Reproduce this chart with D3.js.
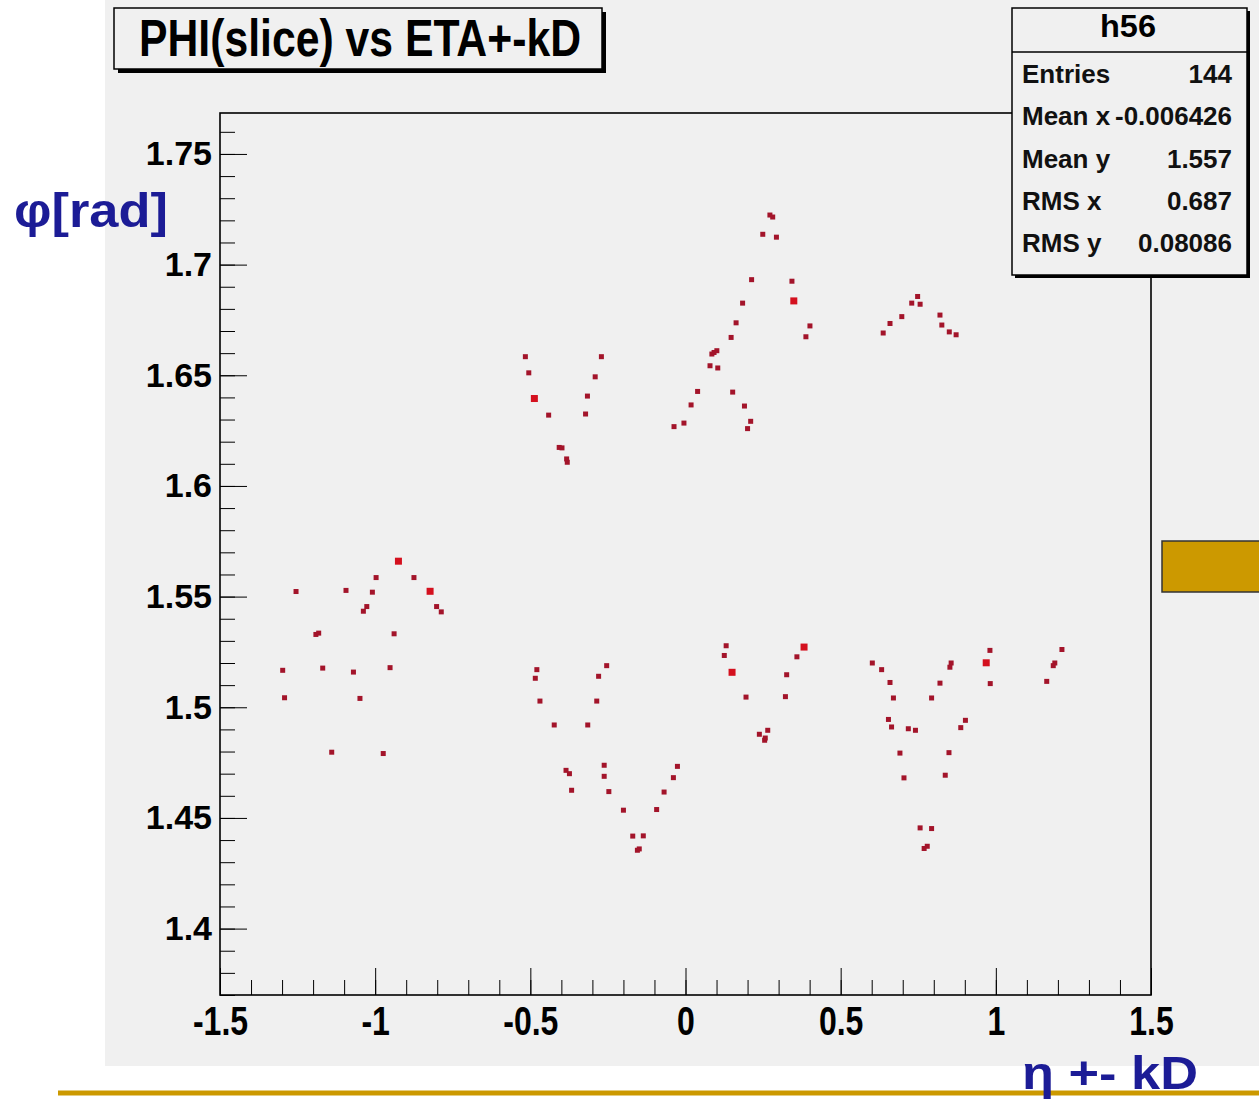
<!DOCTYPE html>
<html>
<head>
<meta charset="utf-8">
<script src="https://cdn.jsdelivr.net/npm/d3@7"></script>
<style>
  body { margin: 0; background: #fff; }
  svg { display: block; }
  text { font-family: "Liberation Sans", Arial, Helvetica, sans-serif; }
</style>
</head>
<body>
<svg id="chart" width="1259" height="1099"></svg>
<script>
// h56 : PHI(slice) vs ETA+-kD  — 2D scatter of hit positions
const eta = [
  -0.925, -0.997, -0.875, -1.255, -1.094, -1.009, -0.823, -1.027, -1.038, -0.802,
  -0.787, -1.191, -1.182, -0.939, -1.298, -1.169, -1.070, -0.952, -1.292, -1.049,
  -1.140, -0.974,
  -0.516, -0.271, -0.505, -0.291, -0.487, -0.316, -0.441, -0.322, -0.407, -0.398,
  -0.383, -0.381,
  0.272, 0.281, 0.249, 0.293, 0.213, 0.343, 0.349, 0.184, 0.163, 0.401,
  0.388, 0.147, 0.085, 0.092, 0.101, 0.079, 0.104, 0.039, 0.152, 0.018,
  0.190, -0.005, -0.037, 0.210, 0.200,
  0.637, 0.659, 0.697, 0.729, 0.748, 0.756, 0.820, 0.826, 0.850, 0.872,
  -0.479, -0.484, -0.254, -0.280, -0.469, -0.286, -0.423, -0.315, -0.385, -0.374,
  -0.367, -0.262, -0.262, -0.247, -0.026, -0.039, -0.069, -0.200, -0.093, -0.170,
  -0.136, -0.149, -0.155,
  0.131, 0.125, 0.150, 0.382, 0.359, 0.326, 0.195, 0.322, 0.238, 0.265,
  0.255, 0.257,
  0.602, 0.632, 0.659, 0.670, 0.654, 0.664, 0.718, 0.741, 0.691, 0.704,
  0.756, 0.793, 0.769, 0.779, 0.856, 0.852, 0.820, 0.793, 0.902, 0.887,
  0.849, 0.837, 0.981, 0.969, 0.982, 1.213, 1.190, 1.185, 1.164
];
const phi = [
  1.5660, 1.5586, 1.5586, 1.5523, 1.5528, 1.5520, 1.5524, 1.5455, 1.5434, 1.5455,
  1.5431, 1.5329, 1.5335, 1.5332, 1.5167, 1.5177, 1.5159, 1.5179, 1.5043, 1.5040,
  1.4797, 1.4791,
  1.6584, 1.6584, 1.6511, 1.6493, 1.6395, 1.6406, 1.6320, 1.6325, 1.6174, 1.6172,
  1.6122, 1.6107,
  1.7224, 1.7215, 1.7137, 1.7124, 1.6932, 1.6925, 1.6836, 1.6826, 1.6737, 1.6723,
  1.6674, 1.6671, 1.6596, 1.6603, 1.6611, 1.6543, 1.6533, 1.6427, 1.6424, 1.6366,
  1.6361, 1.6284, 1.6268, 1.6292, 1.6259,
  1.6691, 1.6734, 1.6765, 1.6826, 1.6856, 1.6821, 1.6772, 1.6727, 1.6696, 1.6683,
  1.5170, 1.5131, 1.5188, 1.5140, 1.5028, 1.5028, 1.4920, 1.4920, 1.4715, 1.4700,
  1.4625, 1.4738, 1.4688, 1.4619, 1.4733, 1.4682, 1.4617, 1.4535, 1.4538, 1.4418,
  1.4419, 1.4360, 1.4354,
  1.5278, 1.5234, 1.5158, 1.5272, 1.5228, 1.5147, 1.5046, 1.5048, 1.4878, 1.4896,
  1.4851, 1.4861,
  1.5200, 1.5170, 1.5112, 1.5042, 1.4945, 1.4911, 1.4903, 1.4896, 1.4793, 1.4681,
  1.4455, 1.4452, 1.4362, 1.4372, 1.5200, 1.5181, 1.5109, 1.5042, 1.4941, 1.4908,
  1.4795, 1.4693, 1.5257, 1.5201, 1.5107, 1.5261, 1.5200, 1.5188, 1.5117
];
// bin content behind each marker (most cells hold a single entry)
const binCount = eta.map(() => 1);
[0, 6, 26, 40, 94, 95, 127].forEach(i => { binCount[i] = 2; });

const xTickValues = [-1.5, -1, -0.5, 0, 0.5, 1, 1.5];
const xTickLabels = ["-1.5", "-1", "-0.5", "0", "0.5", "1", "1.5"];
const yTickValues = [1.4, 1.45, 1.5, 1.55, 1.6, 1.65, 1.7, 1.75];
const yTickLabels = ["1.4", "1.45", "1.5", "1.55", "1.6", "1.65", "1.7", "1.75"];
const statLabels = ["Entries", "Mean x", "Mean y", "RMS x", "RMS y"];
const statValues = ["144", "-0.006426", "1.557", "0.687", "0.08086"];

(function draw() {
  const svg = d3.select("#chart");
  const padFill = "#f0f0f0";

  // canvas pad
  svg.append("rect").attr("x", 105).attr("y", 0).attr("width", 1154).attr("height", 1066)
    .attr("fill", padFill);

  // frame geometry
  const fL = 220, fR = 1151, fT = 113, fB = 995;
  const x = d3.scaleLinear().domain([-1.5, 1.5]).range([fL, fR]);
  const y = d3.scaleLinear().domain([1.37, 1.7685]).range([fB, fT]);

  // x axis: minor and major ticks pointing inward
  const xMinor = d3.range(-15, 16).map(d => d / 10);
  svg.append("g").attr("transform", `translate(0,${fB})`)
    .call(d3.axisBottom(x).tickValues(xMinor).tickSize(-15).tickFormat(""))
    .call(g => g.select(".domain").remove());
  const xAx = svg.append("g").attr("transform", `translate(0,${fB})`)
    .call(d3.axisBottom(x).tickValues(xTickValues).tickSize(-27).tickPadding(12)
      .tickFormat((d, i) => xTickLabels[i]))
    .call(g => g.select(".domain").remove());
  xAx.selectAll("text")
    .attr("font-size", 40).attr("font-weight", "bold").attr("fill", "#000")
    .attr("transform", "scale(0.8,1)");

  // y axis
  const yMinor = d3.range(137, 177).map(d => d / 100);
  svg.append("g").attr("transform", `translate(${fL},0)`)
    .call(d3.axisLeft(y).tickValues(yMinor).tickSize(-15).tickFormat(""))
    .call(g => g.select(".domain").remove());
  const yAx = svg.append("g").attr("transform", `translate(${fL},0)`)
    .call(d3.axisLeft(y).tickValues(yTickValues).tickSize(-27).tickPadding(8)
      .tickFormat((d, i) => yTickLabels[i]))
    .call(g => g.select(".domain").remove());
  yAx.selectAll("text")
    .attr("font-size", 34).attr("font-weight", "bold").attr("fill", "#000");

  // frame
  svg.append("rect").attr("x", fL).attr("y", fT)
    .attr("width", fR - fL).attr("height", fB - fT)
    .attr("fill", "none").attr("stroke", "#000").attr("stroke-width", 1.6);

  // markers
  const pts = eta.map((e, i) => ({ e, p: phi[i], n: binCount[i] }));
  svg.append("g").selectAll("rect").data(pts).join("rect")
    .attr("x", d => x(d.e) - (d.n > 1 ? 3.5 : 2.5))
    .attr("y", d => y(d.p) - (d.n > 1 ? 3.5 : 2.5))
    .attr("width", d => d.n > 1 ? 7 : 5)
    .attr("height", d => d.n > 1 ? 7 : 5)
    .attr("fill", d => d.n > 1 ? "#d4101e" : "#a3142a");

  // title box with shadow
  svg.append("rect").attr("x", 118).attr("y", 12).attr("width", 488).attr("height", 61).attr("fill", "#000");
  svg.append("rect").attr("x", 114).attr("y", 8).attr("width", 488).attr("height", 61)
    .attr("fill", padFill).attr("stroke", "#000").attr("stroke-width", 1.5);
  svg.append("text").attr("x", 139).attr("y", 56)
    .attr("font-size", 52).attr("font-weight", "bold")
    .attr("textLength", 442).attr("lengthAdjust", "spacingAndGlyphs")
    .text("PHI(slice) vs ETA+-kD");

  // statistics box
  const sx = 1012, sy = 8, sw = 235, sh = 267;
  svg.append("rect").attr("x", sx + 3).attr("y", sy + 3).attr("width", sw).attr("height", sh).attr("fill", "#000");
  svg.append("rect").attr("x", sx).attr("y", sy).attr("width", sw).attr("height", sh)
    .attr("fill", padFill).attr("stroke", "#000").attr("stroke-width", 1.5);
  svg.append("line").attr("x1", sx).attr("x2", sx + sw).attr("y1", 52).attr("y2", 52)
    .attr("stroke", "#000").attr("stroke-width", 1.5);
  svg.append("text").attr("x", 1128).attr("y", 37).attr("text-anchor", "middle")
    .attr("font-size", 31).attr("font-weight", "bold").attr("textLength", 56)
    .attr("lengthAdjust", "spacingAndGlyphs").text("h56");
  const rows = svg.append("g");
  statLabels.forEach((lab, i) => {
    const by = 83 + i * 42.3;
    rows.append("text").attr("x", 1022).attr("y", by)
      .attr("font-size", 26).attr("font-weight", "bold").attr("fill", "#111")
      .text(lab);
    rows.append("text").attr("x", 1232).attr("y", by).attr("text-anchor", "end")
      .attr("font-size", 26).attr("font-weight", "bold").attr("fill", "#111")
      .attr("textLength", i === 1 ? 117 : null)
      .attr("lengthAdjust", "spacingAndGlyphs")
      .text(statValues[i]);
  });

  // axis titles (slide annotation)
  svg.append("text").attr("x", 14).attr("y", 227)
    .attr("font-size", 48).attr("font-weight", "bold").attr("fill", "#1c1c96")
    .attr("textLength", 154).attr("lengthAdjust", "spacingAndGlyphs")
    .text("φ[rad]");

  // decorative slide elements
  svg.append("line").attr("x1", 58).attr("x2", 1259).attr("y1", 1093).attr("y2", 1093)
    .attr("stroke", "#cc9900").attr("stroke-width", 5);
  svg.append("rect").attr("x", 1162).attr("y", 541).attr("width", 100).attr("height", 51)
    .attr("fill", "#cc9900").attr("stroke", "#333").attr("stroke-width", 1.5);

  svg.append("text").attr("x", 1022).attr("y", 1089)
    .attr("font-size", 46).attr("font-weight", "bold").attr("fill", "#1c1c96")
    .attr("textLength", 176).attr("lengthAdjust", "spacingAndGlyphs")
    .text("η +- kD");
})();
</script>
</body>
</html>
